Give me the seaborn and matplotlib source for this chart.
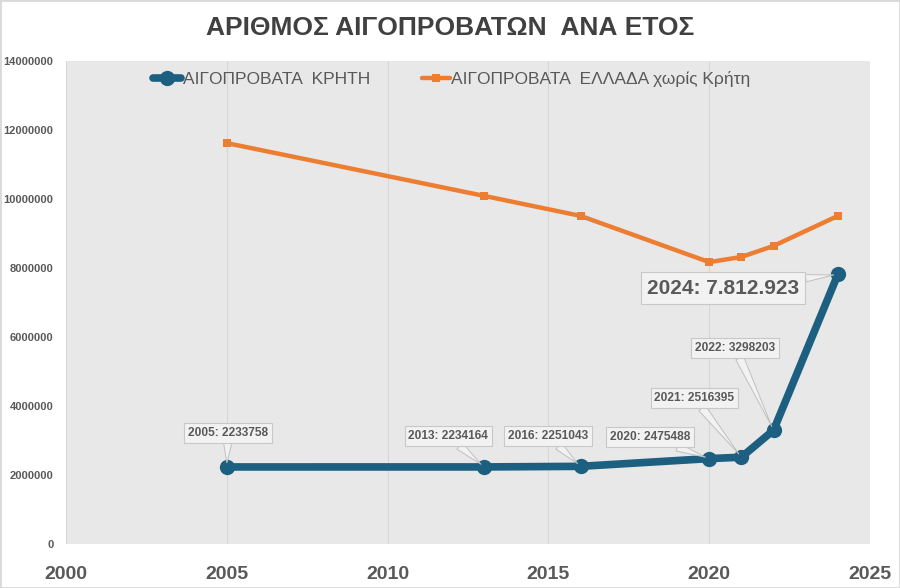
import matplotlib
matplotlib.use("Agg")
import matplotlib.pyplot as plt
import seaborn as sns
import pandas as pd
from matplotlib.patches import Rectangle
from matplotlib.ticker import FixedLocator

# ---- data ----
years = [2005, 2013, 2016, 2020, 2021, 2022, 2024]
crete = [2233758, 2234164, 2251043, 2475488, 2516395, 3298203, 7812923]
greece_wo_crete = [11620000, 10090000, 9510000, 8170000, 8320000, 8640000, 9510000]
crete_name = "ΑΙΓΟΠΡΟΒΑΤΑ  ΚΡΗΤΗ"
greece_name = "ΑΙΓΟΠΡΟΒΑΤΑ  ΕΛΛΑΔΑ χωρίς Κρήτη"
title = "ΑΡΙΘΜΟΣ ΑΙΓΟΠΡΟΒΑΤΩΝ  ΑΝΑ ΕΤΟΣ"
labels = ["2005: 2233758", "2013: 2234164", "2016: 2251043", "2020: 2475488",
          "2021: 2516395", "2022: 3298203", "2024: 7.812.923"]
x_ticks = [2000, 2005, 2010, 2015, 2020, 2025]
y_ticks = [0, 2000000, 4000000, 6000000, 8000000, 10000000, 12000000, 14000000]

# label box positions (layout only)
label_pos = [(2005.04, 3.22e6), (2011.88, 3.13e6), (2014.99, 3.13e6), (2018.16, 3.10e6),
             (2019.53, 4.23e6), (2020.80, 5.68e6), (2020.43, 7.42e6)]

sns.set_style("white", {"axes.facecolor": "#e8e8e8"})
plt.rcParams['font.family'] = ['Liberation Sans', 'DejaVu Sans']

df_c = pd.DataFrame({"year": years, "value": crete})
df_g = pd.DataFrame({"year": years, "value": greece_wo_crete})

fig = plt.figure(figsize=(9, 5.88), dpi=100)
ax = fig.add_axes([0.0733, 0.0748, 0.8934, 0.8215])

BLUE = "#1c5f80"
ORANGE = "#ed7d31"
GRAY = "#595959"

sns.lineplot(data=df_c, x="year", y="value", ax=ax, color=BLUE, linewidth=5.5,
             marker="o", markersize=11, markeredgewidth=0, label=crete_name, zorder=3)
sns.lineplot(data=df_g, x="year", y="value", ax=ax, color=ORANGE, linewidth=3.2,
             marker="s", markersize=6, markeredgewidth=0, label=greece_name, zorder=3)

ax.set_xlim(2000, 2025)
ax.set_ylim(0, 14000000)
ax.xaxis.set_major_locator(FixedLocator(x_ticks))
ax.yaxis.set_major_locator(FixedLocator(y_ticks))
ax.set_xticklabels([str(v) for v in x_ticks], fontsize=14, fontweight="bold", color=GRAY)
ax.set_yticklabels([str(v) for v in y_ticks], fontsize=8, fontweight="bold", color=GRAY)
ax.tick_params(axis="x", length=0, pad=16)
ax.tick_params(axis="y", length=0, pad=9)
ax.set_xlabel("")
ax.set_ylabel("")
ax.grid(axis="x", color="#d6d6d6", linewidth=0.8)
ax.grid(axis="y", visible=False)
for s in ax.spines.values():
    s.set_visible(False)

for i, (yr, val, txt) in enumerate(zip(years, crete, labels)):
    big = (i == len(years) - 1)
    ax.annotate(txt, xy=(yr, val), xytext=label_pos[i], ha="center", va="center",
                fontsize=15 if big else 8.6, fontweight="bold", color=GRAY,
                bbox=dict(boxstyle="square,pad=0.3", fc="#f2f2f2", ec="#c8c8c8", lw=0.8),
                arrowprops=dict(arrowstyle="wedge,tail_width=0.7" if not big else "wedge,tail_width=0.35",
                                fc="#f2f2f2", ec="#c0c0c0", lw=0.7, shrinkA=0, shrinkB=3),
                zorder=5)

leg = ax.legend(loc="upper center", bbox_to_anchor=(0.48, 1.012), ncol=2, frameon=False,
                fontsize=12.5, handlelength=1.6, columnspacing=3.0, handletextpad=0.1)
for t in leg.get_texts():
    t.set_color(GRAY)

fig.text(0.5, 0.953, title, ha="center", va="center", fontsize=19, fontweight="bold",
         color="#404040")

fig.patches.append(Rectangle((0, 0), 1, 1, transform=fig.transFigure, fill=False,
                             ec="#d9d9d9", lw=2))

fig.savefig("out.png", dpi=100)
